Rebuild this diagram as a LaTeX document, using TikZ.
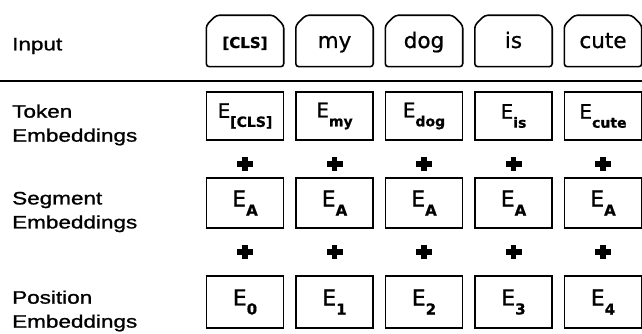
\documentclass[tikz,border=0pt]{standalone}
\usepackage{fontspec}
\setmainfont[FakeBold=0.8]{DejaVu Sans}
\newfontfamily\etichetta[FakeStretch=1.25, FakeBold=1.2]{Liberation Sans}

% E con pedice in grassetto abbassato
\newcommand{\emb}[3]{{\fontsize{#1}{#1}\selectfont E}\raisebox{-9pt}{\fontsize{#2}{#2}\selectfont\bfseries #3}}

\tikzset{
  casella/.style={draw, line width=1.6pt, minimum width=77pt, inner sep=0pt},
  ingresso/.style={minimum width=77pt, minimum height=51pt, inner sep=0pt,
    text height=16pt, text depth=2pt, font=\fontsize{21.5}{21.5}\selectfont},
  riga/.style={anchor=west, align=left, inner sep=0pt, font=\etichetta\fontsize{18}{24}\selectfont},
  piu/.style={line width=5.5pt}
}

\begin{document}
\begin{tikzpicture}[x=1pt, y=-1pt]

        \useasboundingbox (0,0) rectangle (642,334);

        % 1. Etichette delle righe a sinistra
        \node[riga] (lin) at (12,46) {Input};
        \node[riga] (ltok) at (12,125) {Token\\Embeddings};
        \node[riga] (lseg) at (12,212) {Segment\\Embeddings};
        \node[riga] (lpos) at (12,311) {Position\\Embeddings};

        % 2. Caselle di ingresso con gli angoli in alto smussati
        \foreach \t [count=\i] in {{\fontsize{15}{15}\selectfont\bfseries [CLS]},my,dog,is,cute}
          \node[ingresso] (in\i) at ({155.5+89.5*\i},41) {\t};
        \foreach \i in {1,...,5}
          \draw[line width=1.6pt, rounded corners=3pt]
            ([yshift=-10pt]in\i.north west) -- ([xshift=10pt]in\i.north west)
            -- ([xshift=-10pt]in\i.north east) -- ([yshift=-10pt]in\i.north east)
            -- (in\i.south east) -- (in\i.south west) -- cycle;

        % 3. Linea orizzontale di separazione
        \coordinate (sx) at (0,81);
        \coordinate (dx) at (642,81);
        \draw[line width=2.4pt] (sx) -- (dx);

        % 4. Token embeddings
        \foreach \s [count=\i] in {{[CLS]},my,dog,is,cute}
          \node[casella, minimum height=48pt] (tok\i) at ({155.5+89.5*\i},116) {\emb{20}{14}{\s}};

        % 5. Segment embeddings
        \foreach \i in {1,...,5}
          \node[casella, minimum height=50pt] (seg\i) at ({155.5+89.5*\i},203) {\emb{22}{15}{A}};

        % 6. Position embeddings
        \foreach \n [count=\i] in {0,...,4}
          \node[casella, minimum height=52pt] (pos\i) at ({155.5+89.5*\i},302) {\emb{22}{15}{\n}};

        % 7. Segni + tra le righe
        \foreach \i in {1,...,5}
          \foreach \y in {164,252}
            \draw[piu] ({155.5+89.5*\i-8},\y) -- ({155.5+89.5*\i+8},\y)
                       ({155.5+89.5*\i},\y-7) -- ({155.5+89.5*\i},\y+7);

    \end{tikzpicture}
\end{document}
